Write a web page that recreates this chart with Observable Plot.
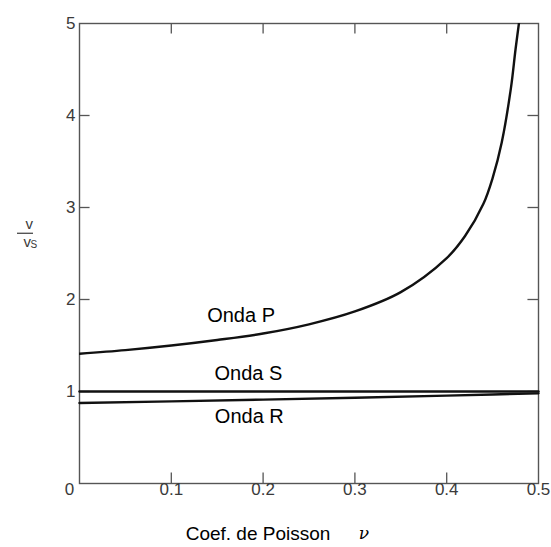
<!DOCTYPE html>
<html><head><meta charset="utf-8">
<script src="https://cdn.jsdelivr.net/npm/d3@7"></script>
<script src="https://cdn.jsdelivr.net/npm/@observablehq/plot@0.6"></script>
<style>body{margin:0;background:#fff;} #chart svg{display:block;}</style>
</head><body><div id="chart"></div>
<script>
// Poisson's ratio samples for the P-wave curve and its read values of v/vs
const poisson = [0, 0.05, 0.1, 0.15, 0.2, 0.25, 0.3, 0.35, 0.4, 0.42, 0.44, 0.45, 0.46, 0.47, 0.475, 0.48];
const ondaP = [1.41, 1.45, 1.50, 1.56, 1.63, 1.73, 1.87, 2.08, 2.45, 2.69, 3.04, 3.32, 3.71, 4.30, 4.72, 5.10];
// S and R waves
const poissonSR = [0, 0.1, 0.2, 0.3, 0.4, 0.45, 0.5];
const ondaS = [1, 1, 1, 1, 1, 1, 1];
const ondaR = [0.875, 0.893, 0.912, 0.932, 0.955, 0.968, 0.98];
// ticks
const xTicks = [0, 0.1, 0.2, 0.3, 0.4, 0.5];
const xTickLabels = ["0", "0.1", "0.2", "0.3", "0.4", "0.5"];
const yTicks = [1, 2, 3, 4, 5];
const yTickLabels = ["1", "2", "3", "4", "5"];
const innerXTicks = [0.1, 0.2, 0.3, 0.4];
const innerYTicks = [1, 2, 3, 4];
// curve labels
const waveNames = ["Onda P", "Onda S", "Onda R"];
const waveLabelX = [0.176, 0.184, 0.185];
const waveLabelY = [1.83, 1.20, 0.73];
const xTitle = "Coef. de Poisson";
const xSymbol = "\u03BD";
const yNum = "v";
const yDen = "v";
const yDenSub = "S";
const yLabelAt = [2.72];

const pData = poisson.map((x, i) => ({x, y: ondaP[i]}));
const sData = poissonSR.map((x, i) => ({x, y: ondaS[i]}));
const rData = poissonSR.map((x, i) => ({x, y: ondaR[i]}));
const labels = waveNames.map((t, i) => ({t, x: waveLabelX[i], y: waveLabelY[i]}));

const tickColor = "#555";
const labelColor = "#3a3a3a";
const chart = Plot.plot({
  width: 551, height: 547,
  marginLeft: 79, marginRight: 13, marginTop: 23, marginBottom: 64,
  x: {domain: [0, 0.5], axis: null},
  y: {domain: [0, 5], axis: null},
  style: {fontFamily: "'Liberation Sans', Arial, sans-serif", background: "#fff", overflow: "visible"},
  marks: [
    Plot.frame({stroke: tickColor, strokeWidth: 1.4}),
    // inward ticks
    Plot.ruleX(innerXTicks, {x: d => d, y1: 0, y2: 0.115, stroke: tickColor, strokeWidth: 1.3}),
    Plot.ruleX(innerXTicks, {x: d => d, y1: 5, y2: 4.885, stroke: tickColor, strokeWidth: 1.3}),
    Plot.ruleY(innerYTicks, {y: d => d, x1: 0, x2: 0.0115, stroke: tickColor, strokeWidth: 1.3}),
    Plot.ruleY(innerYTicks, {y: d => d, x1: 0.5, x2: 0.4885, stroke: tickColor, strokeWidth: 1.3}),
    // tick labels
    Plot.text(xTicks.slice(0, 1), {x: d => d, frameAnchor: "bottom", dy: 11, dx: -10,
      text: (d, i) => xTickLabels[i], fontSize: 17, fill: labelColor, letterSpacing: 1.5}),
    Plot.text(xTicks.slice(1), {x: d => d, frameAnchor: "bottom", dy: 11,
      text: (d, i) => xTickLabels[i + 1], fontSize: 17, fill: labelColor, letterSpacing: 1.5}),
    Plot.text(yTicks, {y: d => d, frameAnchor: "left", dx: -4, textAnchor: "end",
      text: (d, i) => yTickLabels[i], fontSize: 17, fill: labelColor}),
    // curves
    Plot.line(sData, {x: "x", y: "y", stroke: "#111", strokeWidth: 2.4}),
    Plot.line(rData, {x: "x", y: "y", stroke: "#111", strokeWidth: 2.4}),
    Plot.line(pData, {x: "x", y: "y", stroke: "#111", strokeWidth: 2.4, curve: "catmull-rom", clip: true}),
    // curve labels
    Plot.text(labels, {x: "x", y: "y", text: "t", fontSize: 20, fill: "#000"}),
    // axis titles
    Plot.text([xTitle], {frameAnchor: "bottom", dy: 56, dx: -51, text: d => d, fontSize: 19, fill: "#000"}),
    Plot.text([xSymbol], {frameAnchor: "bottom", dy: 55, dx: 55, text: d => d, fontSize: 17, fill: "#000",
      fontFamily: "'DejaVu Serif', serif", fontStyle: "italic"}),
    Plot.text(yLabelAt, {y: d => d, frameAnchor: "left", dx: -54, dy: -9, text: () => yNum, fontSize: 15, fill: labelColor}),
    Plot.ruleY(yLabelAt, {y: d => d, x1: 0, x2: 0, insetLeft: -62, insetRight: 46, stroke: labelColor, strokeWidth: 1.2}),
    Plot.text(yLabelAt, {y: d => d, frameAnchor: "left", dx: -56, dy: 9, text: () => yDen, fontSize: 15, fill: labelColor}),
    Plot.text(yLabelAt, {y: d => d, frameAnchor: "left", dx: -49, dy: 12, text: () => yDenSub, fontSize: 10, fill: labelColor})
  ]
});
document.getElementById("chart").appendChild(chart);
</script>
</body></html>
